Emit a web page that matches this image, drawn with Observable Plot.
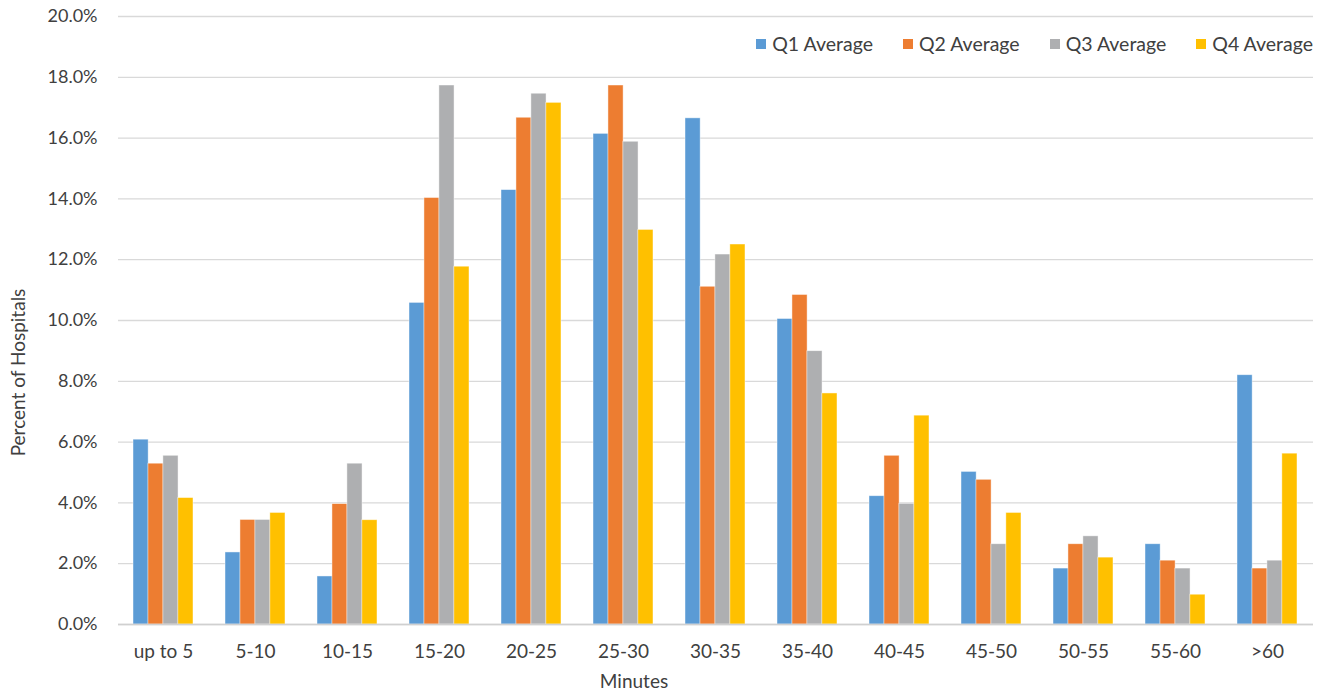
<!DOCTYPE html>
<html>
<head>
<meta charset="utf-8">
<script src="https://cdn.jsdelivr.net/npm/d3@7"></script>
<script src="https://cdn.jsdelivr.net/npm/@observablehq/plot@0.6"></script>
<style>
  body { margin: 0; background: #fff; font-family: Lato, "Open Sans", sans-serif; }
  #chart { position: relative; width: 1326px; height: 700px; }
  #chart svg { display: block; }
  #legend { position: absolute; top: 33px; right: 13px; display: flex; gap: 30px;
            font-size: 19.5px; color: #404040; line-height: 22px; }
  #legend .item { display: flex; align-items: center; white-space: nowrap; }
  #legend .sw { display: inline-block; width: 10px; height: 10px; margin-right: 6px; }
</style>
</head>
<body>
<div id="chart"><div id="legend"></div></div>
<script>
// Response-time buckets (minutes) and the share of hospitals in each, per quarter (%)
const categories = ["up to 5", "5-10", "10-15", "15-20", "20-25", "25-30", "30-35",
                    "35-40", "40-45", "45-50", "50-55", "55-60", ">60"];
const q1 = [6.08, 2.37, 1.58, 10.58, 14.29, 16.14, 16.65, 10.05, 4.22, 5.02, 1.84, 2.64, 8.20];
const q2 = [5.29, 3.44, 3.96, 14.03, 16.67, 17.73, 11.11, 10.84, 5.55, 4.76, 2.64, 2.10, 1.84];
const q3 = [5.55, 3.44, 5.29, 17.73, 17.46, 15.88, 12.17, 8.99, 3.97, 2.64, 2.90, 1.84, 2.10];
const q4 = [4.16, 3.67, 3.43, 11.77, 17.16, 12.98, 12.50, 7.60, 6.87, 3.67, 2.20, 0.98, 5.62];

const seriesNames = ["Q1 Average", "Q2 Average", "Q3 Average", "Q4 Average"];
const seriesColors = ["#5B9BD5", "#ED7D31", "#AEAFB1", "#FFC000"];
const seriesValues = [q1, q2, q3, q4];

const yTicks = [0, 2, 4, 6, 8, 10, 12, 14, 16, 18, 20];

const W = 1326, H = 700;
const margin = {top: 16, right: 13, bottom: 76, left: 118};
const xOpts = {type: "band", domain: categories, paddingInner: 0.35, paddingOuter: 0.175,
               range: [117, W - margin.right]};

// Split each category band into four equal slots, one per quarter
const bandwidth = Plot.scale({x: xOpts}).bandwidth;
const slot = bandwidth / seriesValues.length;

const bars = seriesValues.map((vals, i) =>
  Plot.barY(categories, {
    x: d => d,
    y: (d, j) => vals[j],
    fill: seriesColors[i],
    insetLeft: i * slot,
    insetRight: (seriesValues.length - 1 - i) * slot,
    stroke: "#fff",
    strokeOpacity: 0.6,
    strokeWidth: 0.75
  })
);

const chart = Plot.plot({
  width: W,
  height: H,
  marginTop: margin.top,
  marginRight: margin.right,
  marginBottom: margin.bottom,
  marginLeft: margin.left,
  style: {fontFamily: "Lato, 'Open Sans', sans-serif", fontSize: "19px", color: "#404040", background: "#fff"},
  x: {...xOpts, label: null},
  y: {domain: [0, 20], label: null},
  marks: [
    Plot.gridY(yTicks, {stroke: "#d9d9d9", strokeOpacity: 1, strokeWidth: 1.3}),
    ...bars,
    Plot.ruleY([0], {stroke: "#d0d0d0", strokeWidth: 1.6}),
    Plot.axisY(yTicks, {tickSize: 0, tickPadding: 21, tickFormat: d => d.toFixed(1) + "%",
                        fontSize: 18, label: null}),
    Plot.axisX({tickSize: 0, tickPadding: 20, fontSize: 19, label: null}),
    // Axis titles
    Plot.text(["Minutes"], {frameAnchor: "bottom", textAnchor: "middle", dx: -82, dy: 63,
                            fontSize: 19, fill: "#404040"}),
    Plot.text(["Percent of Hospitals"], {frameAnchor: "left", textAnchor: "middle", rotate: -90,
                                         dx: -100, dy: 52, fontSize: 19, fill: "#404040"})
  ]
});

const host = document.getElementById("chart");
host.insertBefore(chart, host.firstChild);

// Legend drawn over the top-right of the plot area
const legend = d3.select("#legend");
seriesNames.forEach((name, i) => {
  const item = legend.append("span").attr("class", "item");
  item.append("span").attr("class", "sw").style("background", seriesColors[i]);
  item.append("span").text(name);
});
</script>
</body>
</html>
